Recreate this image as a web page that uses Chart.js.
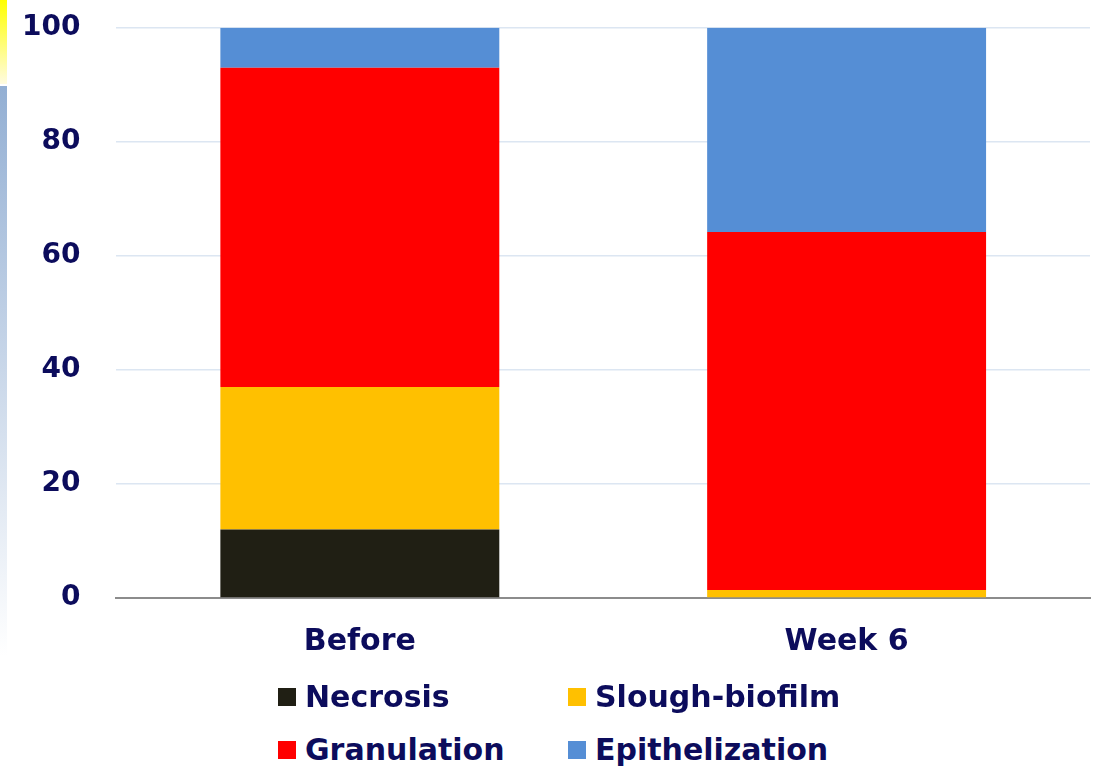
<!DOCTYPE html>
<html>
<head>
<meta charset="utf-8">
<script src="https://cdn.jsdelivr.net/npm/chart.js@4/dist/chart.umd.min.js"></script>
<style>
  body { margin: 0; background: #fff; width: 1099px; height: 769px; overflow: hidden; position: relative; font-family: "DejaVu Sans", sans-serif; }
  #strip_y { position: absolute; left: 0; top: 0; width: 7px; height: 84px; background: linear-gradient(#ffff00, #fffbe0); }
  #strip_b { position: absolute; left: 0; top: 86px; width: 7px; height: 570px; background: linear-gradient(#93afd3, #ffffff); }
  #wrap { position: absolute; left: 0; top: -25px; width: 1099px; height: 711px; }
  #legend { position: absolute; left: 0; top: 679px; width: 1099px; }
  .item { position: absolute; display: flex; align-items: center; font-weight: 700; font-size: 30px; color: #0c0c5c; white-space: nowrap; }
  .item span.box { width: 18px; height: 18px; margin-right: 9px; display: inline-block; }
</style>
</head>
<body>
<div id="strip_y"></div>
<div id="strip_b"></div>
<div id="wrap"><canvas id="chart" width="1099" height="711"></canvas></div>
<div id="legend"></div>
<script>
let categories = ['Before', 'Week 6']
let necrosis = [12, 0]
let slough = [25, 1.4]
let granulation = [56, 62.8]
let epithelization = [7, 35.8]
let y_ticks = [0, 20, 40, 60, 80, 100]

let navy = '#0c0c5c'
let series = [
    { label: 'Necrosis', data: necrosis, color: '#201f14' },
    { label: 'Slough-biofilm', data: slough, color: '#ffc000' },
    { label: 'Granulation', data: granulation, color: '#ff0000' },
    { label: 'Epithelization', data: epithelization, color: '#558ed5' },
]

let canvas_tag = document.getElementById('chart')
let myChart = new Chart(canvas_tag, {
    type: 'bar',
    data: {
        labels: categories,
        datasets: series.map(s => ({
            label: s.label,
            data: s.data,
            backgroundColor: s.color,
            borderWidth: 0,
            barPercentage: 0.573,
            categoryPercentage: 1,
        }))
    },
    options: {
        responsive: false,
        animation: false,
        layout: { padding: { top: -10, right: 9, left: -14, bottom: 0 } },
        plugins: { legend: { display: false }, tooltip: { enabled: false } },
        scales: {
            x: {
                stacked: true,
                grid: { display: false, drawTicks: false },
                border: { color: '#8c8c8c', width: 2 },
                ticks: { color: navy, padding: 26, font: { family: 'DejaVu Sans', weight: 'bold', size: 30 } },
            },
            y: {
                stacked: true,
                min: 0,
                max: 100,
                afterBuildTicks: axis => { axis.ticks = y_ticks.map(v => ({ value: v })) },
                grid: { color: '#dce6f2', lineWidth: 1.5, drawTicks: false },
                border: { display: false },
                ticks: { color: navy, padding: 36, font: { family: 'DejaVu Sans', weight: 'bold', size: 28 } },
            }
        }
    }
})

// legend laid out as a 2x2 grid like the original
let legend = document.getElementById('legend')
let spots = [[278, 0], [568, 0], [278, 53], [568, 53]]
series.forEach((s, i) => {
    let el = document.createElement('div')
    el.className = 'item'
    el.style.left = spots[i][0] + 'px'
    el.style.top = spots[i][1] + 'px'
    el.innerHTML = '<span class="box" style="background:' + s.color + '"></span>' + s.label
    legend.appendChild(el)
})
</script>
</body>
</html>
